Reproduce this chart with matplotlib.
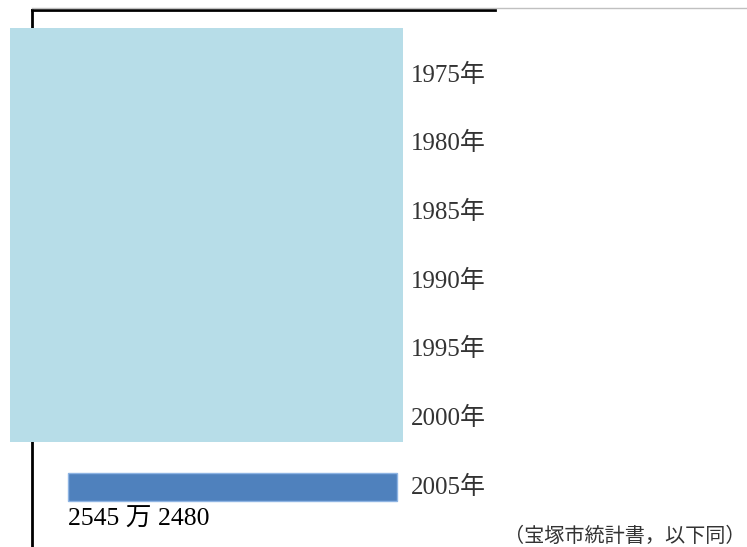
import matplotlib.pyplot as plt
from matplotlib.patches import Rectangle
from matplotlib.lines import Line2D

years = ['1975年', '1980年', '1985年', '1990年', '1995年', '2000年', '2005年']
bar_years = ['2005年']
bar_values = [25452480]
bar_label = '2545 万 2480'
note = '（宝塚市統計書，以下同）'

serif_jp = ['Liberation Serif', 'Noto Sans CJK JP']
W, H = 747, 547

fig = plt.figure(figsize=(W / 100, H / 100), dpi=100)
ax = fig.add_axes([32 / W, 0, 463 / W, 537 / H])

ypos = [years.index(y) for y in bar_years]
ax.barh(ypos, bar_values, height=0.4, color='#4f81bd', edgecolor='#8eb4e3', linewidth=1)

v = bar_values[0]
ax.set_xlim(-36 / 329 * v, 427 / 329 * v)
ax.set_ylim(6.873, -0.946)

for i, y in enumerate(years):
    ax.text((411 - 32) / 463, i, y, transform=ax.get_yaxis_transform(),
            ha='left', va='center', fontsize=18, family=serif_jp, color='#333333')

ax.text(0, 6.47, bar_label, ha='left', va='center', fontsize=18.5, family=serif_jp, color='black')

ax.set_xticks([])
ax.set_yticks([])
for s in ['right', 'bottom']:
    ax.spines[s].set_visible(False)
ax.spines['left'].set_linewidth(2)
ax.spines['top'].set_linewidth(2)

# cover box over the earlier years
ax.add_patch(Rectangle((10 / W, 1 - 442 / H), 393 / W, 414 / H, transform=fig.transFigure,
                       facecolor='#b7dde8', edgecolor='none', zorder=5, clip_on=False))

fig.add_artist(Line2D([32 / W, 1], [1 - 8 / H, 1 - 8 / H], color='#c0c0c0', linewidth=1))

fig.text(746 / W, 1 - 536 / H, note, ha='right', va='center', fontsize=14.5,
         family=['Noto Sans CJK JP'], color='#333333')

fig.savefig('out.png', dpi=100)
